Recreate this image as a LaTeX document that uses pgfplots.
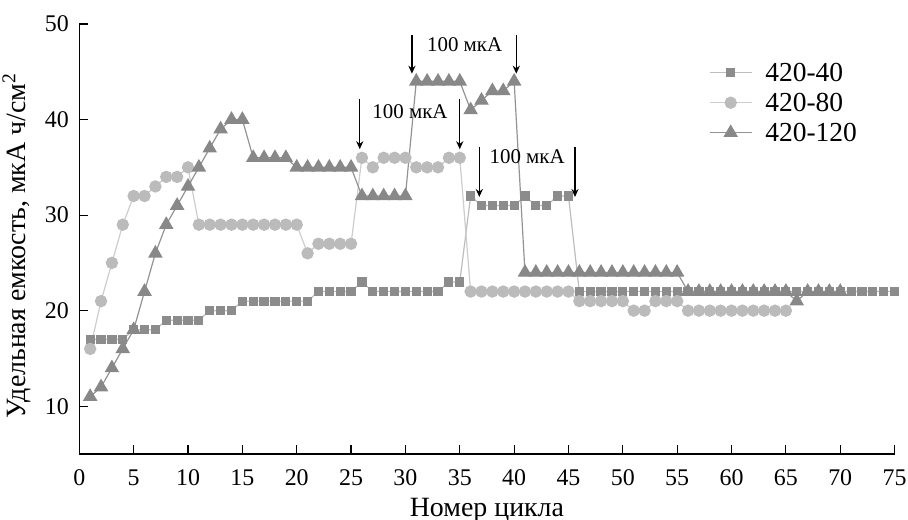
\documentclass[border=0pt]{standalone}
\usepackage{fontspec}
\setmainfont{Liberation Serif}
\usepackage{pgfplots}
\pgfplotsset{compat=1.18}
\usetikzlibrary{arrows.meta}
\definecolor{sqm}{HTML}{8C8C8C}
\definecolor{sql}{HTML}{BDBDBD}
\definecolor{cim}{HTML}{BBBBBB}
\definecolor{cil}{HTML}{CDCDCD}
\definecolor{trm}{HTML}{888888}
\definecolor{trl}{HTML}{939393}
\begin{document}
\begin{tikzpicture}
\begin{axis}[name=ax, scale only axis, width=407.65bp, height=215bp,
  xmin=0, xmax=75, ymin=5, ymax=50,
  axis lines*=left, axis line style={line width=0.65bp},
  tick align=inside, major tick length=4.5bp,
  tick style={line width=0.6bp, black},
  xtick={0,5,...,75}, ytick={10,20,...,50},
  /pgf/number format/assume math mode=true,
  ticklabel style={font=\fontsize{12}{14}\selectfont},
  xticklabel style={yshift=-4.5bp},
  yticklabel style={xshift=-1.7bp},
  xlabel={Номер цикла},
  ylabel={Удельная емкость, мкА ч/см\textsuperscript{2}},
  label style={font=\fontsize{14}{16}\selectfont},
  xlabel style={yshift=1bp},
  ylabel style={at={(ticklabel cs:0.485)}},
  clip=false,
  legend style={at={(rel axis cs:0.772,0.912)}, anchor=north west, draw=none, fill=none,
    inner sep=0pt, font=\fontsize{13.8}{16}\selectfont, row sep=4.5bp,
    nodes={inner sep=1bp, text height=8.5bp, text depth=0bp},
    /tikz/every odd column/.append style={column sep=5.5bp}},
  legend cell align=left,
  legend image code/.code={\draw[mark repeat=2,mark phase=2,#1] plot coordinates {(0bp,0bp) (10.5bp,0bp) (21bp,0bp)};},
]
\addplot[color=sql, line width=0.6bp, mark=square*, mark size=2bp, mark options={fill=sqm, draw=sqm}] coordinates {
(1,17)(2,17)(3,17)(4,17)(5,18)(6,18)(7,18)(8,19)(9,19)(10,19)(11,19)(12,20)(13,20)(14,20)
(15,21)(16,21)(17,21)(18,21)(19,21)(20,21)(21,21)(22,22)(23,22)(24,22)(25,22)(26,23)
(27,22)(28,22)(29,22)(30,22)(31,22)(32,22)(33,22)(34,23)(35,23)(36,32)(37,31)(38,31)(39,31)(40,31)
(41,32)(42,31)(43,31)(44,32)(45,32)(46,22)(47,22)(48,22)(49,22)(50,22)(51,22)(52,22)(53,22)(54,22)(55,22)
(56,22)(57,22)(58,22)(59,22)(60,22)(61,22)(62,22)(63,22)(64,22)(65,22)(66,22)(67,22)(68,22)(69,22)(70,22)
(71,22)(72,22)(73,22)(74,22)(75,22)};
\addlegendentry{420-40}
\addplot[color=cil, line width=0.6bp, mark=*, mark size=2.8bp, mark options={fill=cim, draw=cim}] coordinates {
(1,16)(2,21)(3,25)(4,29)(5,32)(6,32)(7,33)(8,34)(9,34)(10,35)
(11,29)(12,29)(13,29)(14,29)(15,29)(16,29)(17,29)(18,29)(19,29)(20,29)
(21,26)(22,27)(23,27)(24,27)(25,27)(26,36)(27,35)(28,36)(29,36)(30,36)(31,35)(32,35)(33,35)(34,36)(35,36)
(36,22)(37,22)(38,22)(39,22)(40,22)(41,22)(42,22)(43,22)(44,22)(45,22)
(46,21)(47,21)(48,21)(49,21)(50,21)(51,20)(52,20)(53,21)(54,21)(55,21)
(56,20)(57,20)(58,20)(59,20)(60,20)(61,20)(62,20)(63,20)(64,20)(65,20)};
\addlegendentry{420-80}
\addplot[color=trl, line width=0.6bp, mark=triangle*, mark size=3.6bp, mark options={fill=trm, draw=trm}] coordinates {
(1,11)(2,12)(3,14)(4,16)(5,18)(6,22)(7,26)(8,29)(9,31)(10,33)(11,35)(12,37)(13,39)(14,40)(15,40)
(16,36)(17,36)(18,36)(19,36)(20,35)(21,35)(22,35)(23,35)(24,35)(25,35)
(26,32)(27,32)(28,32)(29,32)(30,32)(31,44)(32,44)(33,44)(34,44)(35,44)
(36,41)(37,42)(38,43)(39,43)(40,44)
(41,24)(42,24)(43,24)(44,24)(45,24)(46,24)(47,24)(48,24)(49,24)(50,24)(51,24)(52,24)(53,24)(54,24)(55,24)
(56,22)(57,22)(58,22)(59,22)(60,22)(61,22)(62,22)(63,22)(64,22)(65,22)(66,21)(67,22)(68,22)(69,22)(70,22)};
\addlegendentry{420-120}
\begin{scope}[font=\fontsize{10.5}{12}\selectfont]
\node[inner sep=0pt] at (axis cs:35.45,47.85) {100 мкА};
\node[inner sep=0pt] at (axis cs:30.42,40.8) {100 мкА};
\node[inner sep=0pt] at (axis cs:41.2,36.1) {100 мкА};
\end{scope}
\begin{scope}[-{Stealth[length=4bp,width=3.6bp]}, line width=0.6bp]
\draw (axis cs:25.8,42.2) -- (axis cs:25.8,36.9);
\draw (axis cs:35,42.2) -- (axis cs:35,36.9);
\draw (axis cs:30.6,48.85) -- (axis cs:30.6,44.8);
\draw (axis cs:40.2,48.85) -- (axis cs:40.2,44.8);
\draw (axis cs:36.8,37.15) -- (axis cs:36.8,31.9);
\draw (axis cs:45.6,37.15) -- (axis cs:45.6,31.9);
\end{scope}
\end{axis}
\pgfresetboundingbox
\path[use as bounding box] ([shift={(-39.65bp,-33bp)}]ax.south west) rectangle ([shift={(414.35bp,227bp)}]ax.south west);
\end{tikzpicture}
\end{document}
